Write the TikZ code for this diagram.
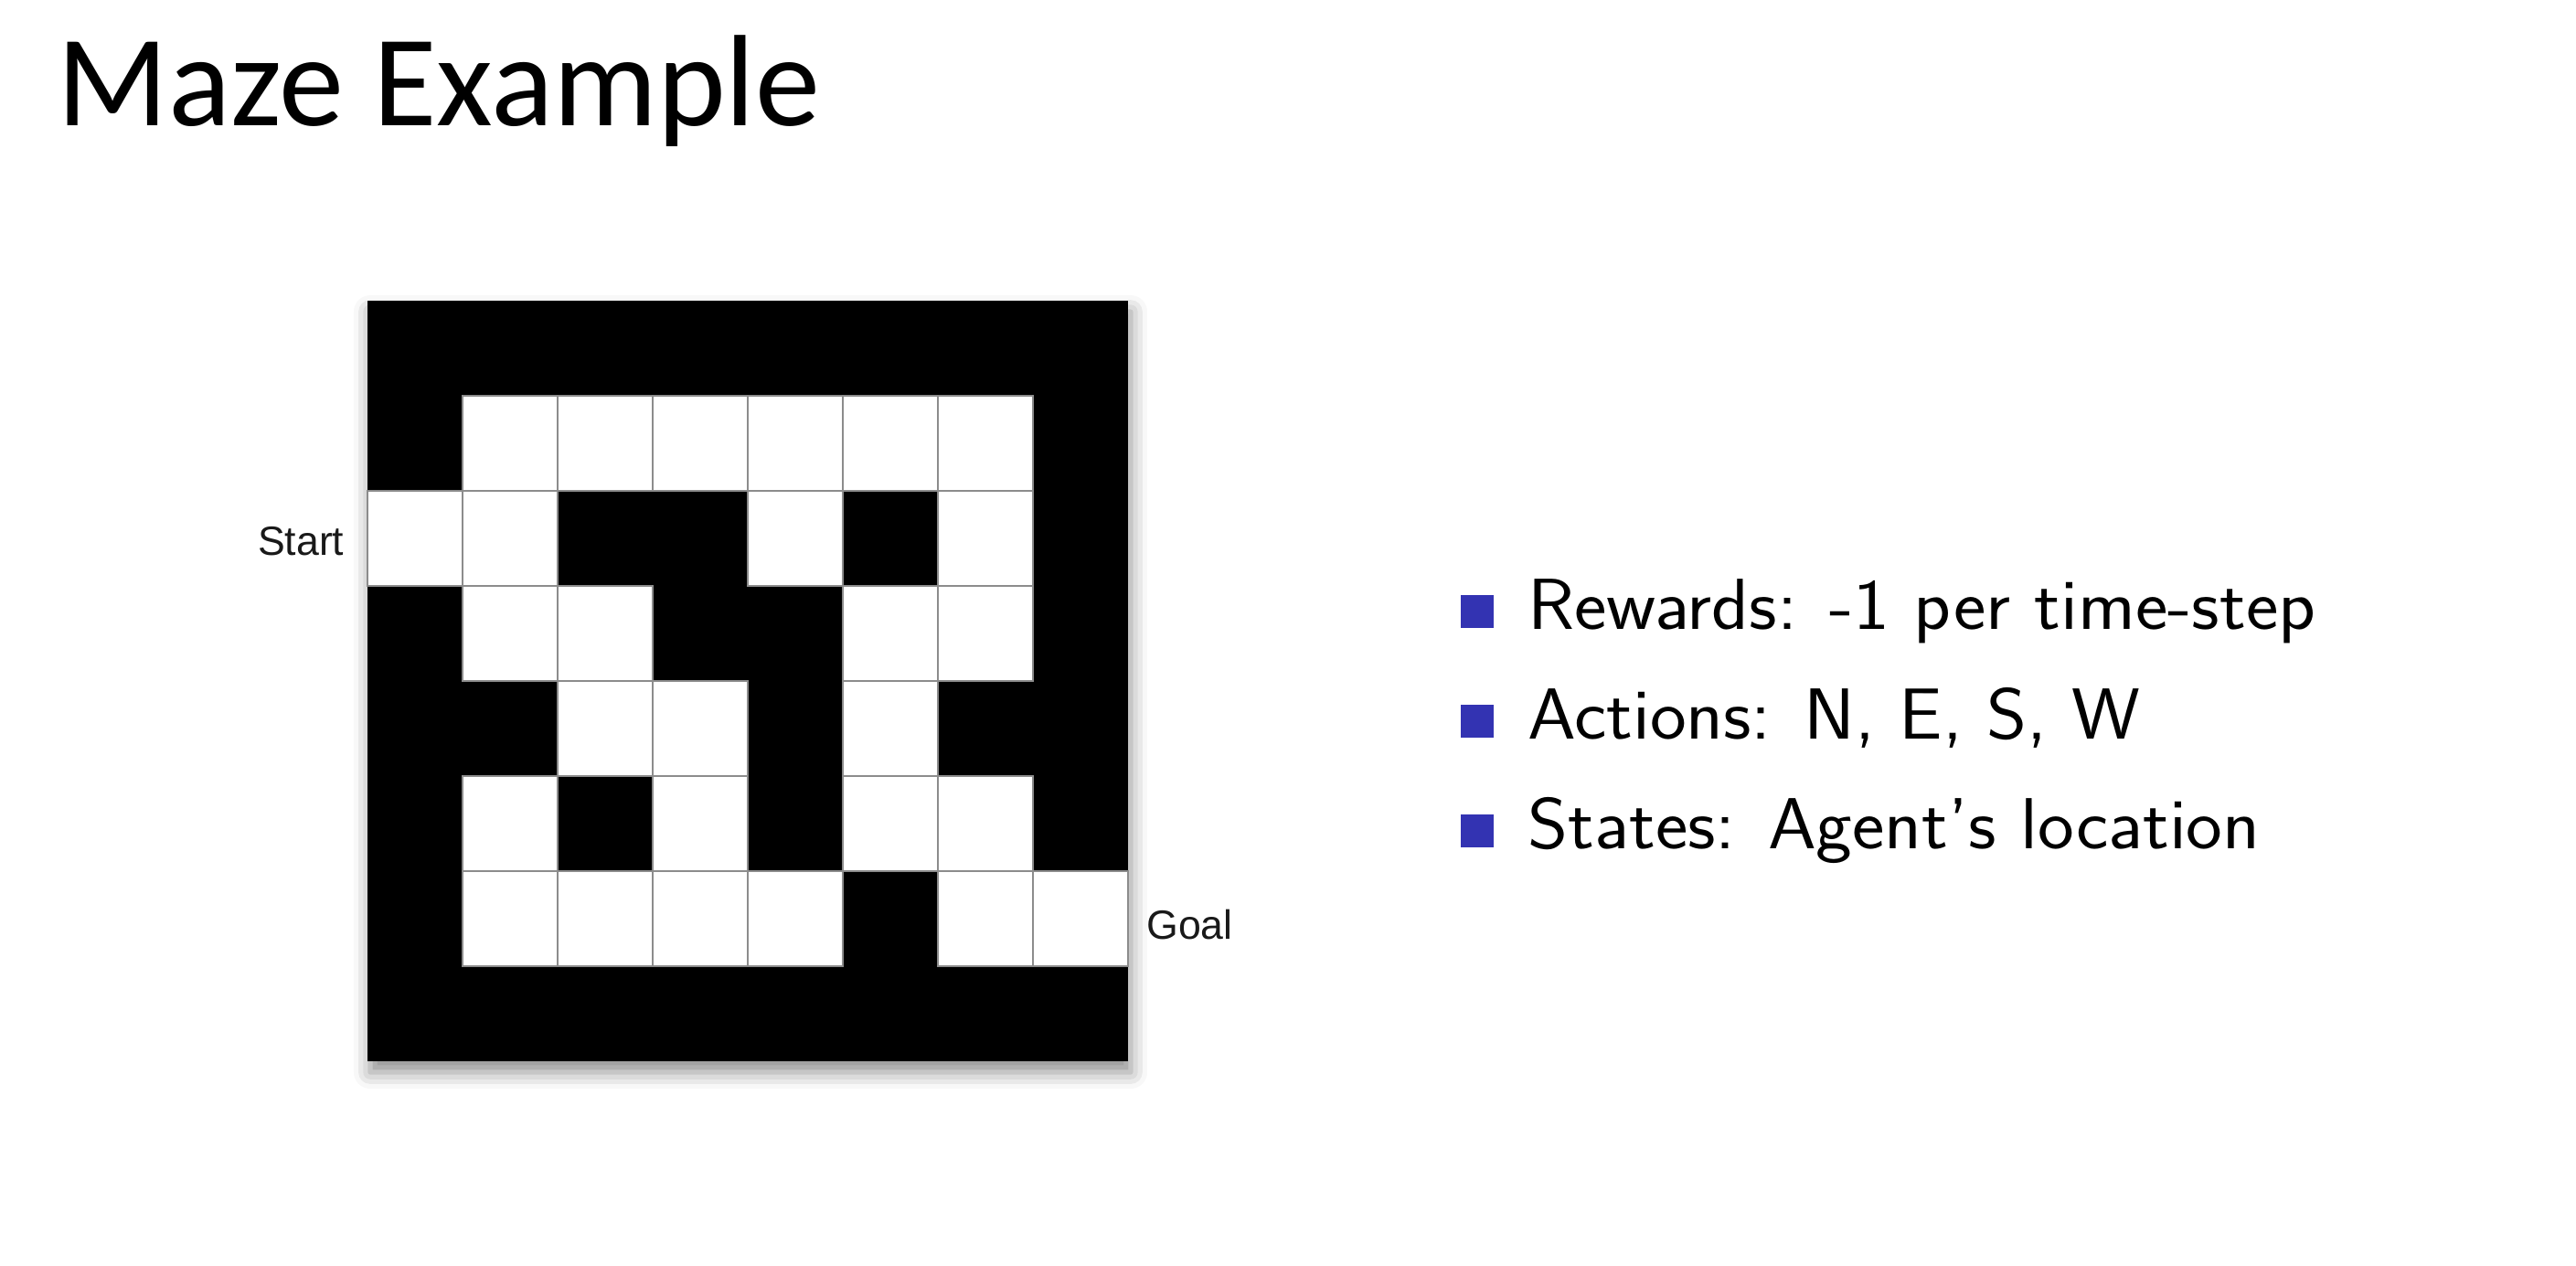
\documentclass[tikz,border=0pt]{standalone}
\usepackage{fontspec}
\usepackage{tikz}
\usetikzlibrary{positioning,shadows.blur}
\newfontfamily\titlefont{Carlito}
\newfontfamily\labelfont{Liberation Sans}
\newfontfamily\itemfont[FakeStretch=1.068]{Latin Modern Sans}
\definecolor{itemblue}{RGB}{51,51,178}

\begin{document}
\begin{tikzpicture}[
  x=1.04cm, y=1.04cm,
  cell/.style={fill=white, draw=black!45, line width=0.8pt},
  lbl/.style={font=\labelfont\fontsize{12.7}{15}\selectfont, text=black!90,
              inner sep=0pt},
  itm/.style={font=\itemfont\fontsize{22.5}{27}\selectfont, anchor=base west,
              inner sep=0pt},
  sq/.style={fill=itemblue, minimum size=3.6mm, inner sep=0pt,
             anchor=south west},
]
  \useasboundingbox (-3.865,-2.144) rectangle (23.231,11.164);

  % title
  \node[font=\titlefont\fontsize{40.5}{48}\selectfont, anchor=base west,
        inner sep=0pt] (title) at (-3.27,9.846) {Maze Example};

  % maze: black board, then the free cells
  \fill[black, blur shadow={shadow xshift=0.3mm, shadow yshift=-1.2mm,
        shadow blur radius=1.8mm, shadow opacity=45}] (0,0) rectangle (8,8);
  \foreach \c/\r in {1/6,2/6,3/6,4/6,5/6,6/6,
                     0/5,1/5,4/5,6/5,
                     1/4,2/4,5/4,6/4,
                     2/3,3/3,5/3,
                     1/2,3/2,5/2,6/2,
                     1/1,2/1,3/1,4/1,6/1,7/1}
    \draw[cell] (\c,\r) rectangle ++(1,1);

  \node[lbl, anchor=east] (start) at (-0.24,5.47) {Start};
  \node[lbl, anchor=west] (goal) at (8.19,1.44) {Goal};

  % items
  \foreach \y/\t [count=\i] in {4.548/{Rewards: -1 per time-step},
                                3.394/{Actions: N, E, S, W},
                                2.240/{States: Agent’s location}} {
    \node[sq] (sq\i) at (11.49,\y) {};
    \node[itm] (item\i) at (12.2,\y) {\t};
  }
\end{tikzpicture}
\end{document}
